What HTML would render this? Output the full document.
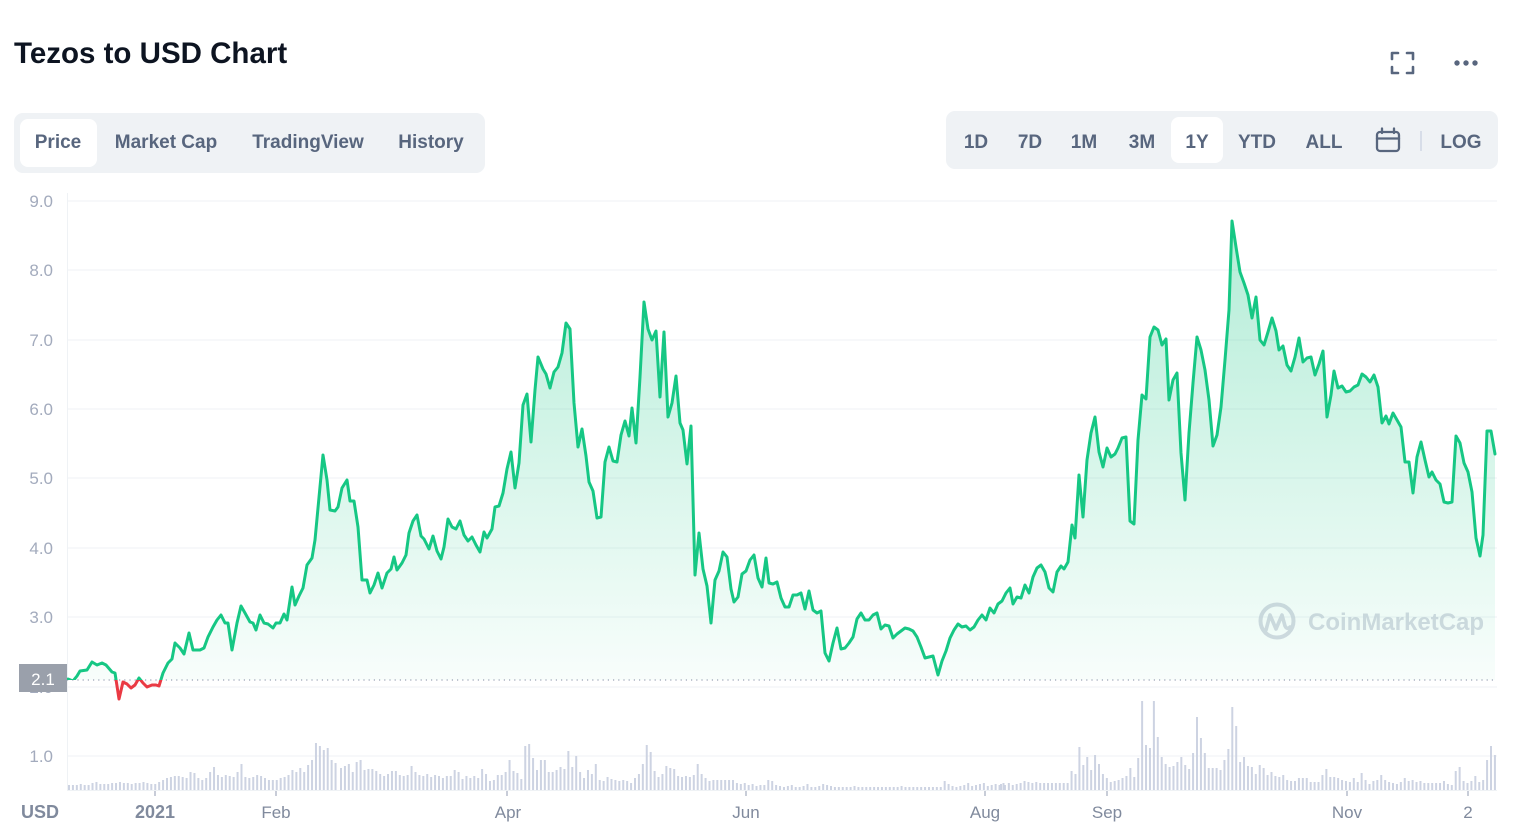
<!DOCTYPE html>
<html>
<head>
<meta charset="utf-8">
<style>
html,body{margin:0;padding:0;background:#fff;}
body{width:1531px;height:831px;overflow:hidden;position:relative;font-family:"Liberation Sans",Arial,sans-serif;}
svg{position:absolute;left:0;top:0;}
</style>
</head>
<body>
<svg width="1531" height="831" viewBox="0 0 1531 831" xmlns="http://www.w3.org/2000/svg" font-family="Liberation Sans, Arial, sans-serif">
<defs>
<linearGradient id="gg" x1="0" y1="200" x2="0" y2="680" gradientUnits="userSpaceOnUse">
<stop offset="0" stop-color="#16c784" stop-opacity="0.34"/>
<stop offset="1" stop-color="#16c784" stop-opacity="0.03"/>
</linearGradient>
<linearGradient id="rg" x1="0" y1="680" x2="0" y2="710" gradientUnits="userSpaceOnUse">
<stop offset="0" stop-color="#ea3943" stop-opacity="0.03"/>
<stop offset="1" stop-color="#ea3943" stop-opacity="0.12"/>
</linearGradient>
<clipPath id="above"><rect x="60" y="150" width="1450" height="530"/></clipPath>
<clipPath id="below"><rect x="60" y="680" width="1450" height="120"/></clipPath>
</defs>

<!-- Header -->
<text x="14" y="63" font-size="29.5" font-weight="bold" fill="#0d1421">Tezos to USD Chart</text>

<!-- fullscreen icon -->
<g fill="none" stroke="#58667e" stroke-width="2.6" stroke-linecap="round" stroke-linejoin="round">
<path d="M1392 59 V53 H1398"/>
<path d="M1407 53 H1413 V59"/>
<path d="M1413 67 V73 H1407"/>
<path d="M1398 73 H1392 V67"/>
</g>
<g fill="#58667e"><circle cx="1457" cy="63" r="2.7"/><circle cx="1466" cy="63" r="2.7"/><circle cx="1475" cy="63" r="2.7"/></g>

<!-- Left tabs -->
<rect x="14" y="113" width="471" height="60" rx="9" fill="#eff2f5"/>
<rect x="20" y="119" width="77" height="48" rx="8" fill="#ffffff"/>
<g font-size="19" font-weight="bold" fill="#58667e" text-anchor="middle">
<text x="58" y="148">Price</text>
<text x="166" y="148">Market Cap</text>
<text x="308" y="148">TradingView</text>
<text x="431" y="148">History</text>
</g>

<!-- Right range selector -->
<rect x="946" y="111" width="552" height="58" rx="9" fill="#eff2f5"/>
<rect x="1171" y="117" width="52" height="46" rx="8" fill="#ffffff"/>
<g font-size="19" font-weight="bold" fill="#58667e" text-anchor="middle">
<text x="976" y="148">1D</text>
<text x="1030" y="148">7D</text>
<text x="1084" y="148">1M</text>
<text x="1142" y="148">3M</text>
<text x="1197" y="148">1Y</text>
<text x="1257" y="148">YTD</text>
<text x="1324" y="148">ALL</text>
<text x="1461" y="148">LOG</text>
</g>
<g fill="none" stroke="#58667e" stroke-width="2.3" stroke-linecap="round">
<rect x="1377" y="132" width="22" height="19" rx="3"/>
<line x1="1377" y1="138.5" x2="1399" y2="138.5"/>
<line x1="1382" y1="128.5" x2="1382" y2="133"/>
<line x1="1394" y1="128.5" x2="1394" y2="133"/>
</g>
<line x1="1421" y1="131" x2="1421" y2="151" stroke="#cfd6e4" stroke-width="1.5"/>

<!-- Grid -->
<g stroke="#eff2f5" stroke-width="1">
<line x1="67" y1="201" x2="1497" y2="201"/>
<line x1="67" y1="270" x2="1497" y2="270"/>
<line x1="67" y1="340" x2="1497" y2="340"/>
<line x1="67" y1="409" x2="1497" y2="409"/>
<line x1="67" y1="478" x2="1497" y2="478"/>
<line x1="67" y1="548" x2="1497" y2="548"/>
<line x1="67" y1="617" x2="1497" y2="617"/>
<line x1="67" y1="687" x2="1497" y2="687"/>
<line x1="67" y1="756" x2="1497" y2="756"/>
<line x1="67" y1="790.5" x2="1497" y2="790.5"/>
<line x1="67.5" y1="193" x2="67.5" y2="791"/>
</g>

<!-- Y labels -->
<g font-size="17" fill="#a3abbd" text-anchor="end">
<text x="53" y="207">9.0</text>
<text x="53" y="276">8.0</text>
<text x="53" y="346">7.0</text>
<text x="53" y="415">6.0</text>
<text x="53" y="484">5.0</text>
<text x="53" y="554">4.0</text>
<text x="53" y="623">3.0</text>
<text x="53" y="693">2.0</text>
<text x="53" y="762">1.0</text>
</g>

<!-- Volume bars -->
<g fill="none" stroke="#cdd3e2" stroke-width="2">
<path d="M69 790v-5m3.92 5v-5m3.92 5v-5m3.92 5v-6m3.92 6v-5m3.92 5v-5m3.92 5v-7m3.92 7v-8m3.92 8v-6m3.92 6v-6m3.92 6v-6m3.92 6v-7m3.92 7v-7m3.92 7v-8m3.92 8v-7m3.92 7v-7m3.92 7v-6m3.92 6v-7m3.92 7v-7m3.92 7v-8m3.92 8v-7m3.92 7v-6m3.92 6v-6m3.92 6v-8m3.92 8v-10m3.92 10v-12m3.92 12v-13m3.92 13v-14m3.92 14v-14m3.92 14v-13m3.92 13v-12m3.92 12v-18m3.92 18v-17m3.92 17v-12m3.92 12v-10m3.92 10v-12m3.92 12v-18m3.92 18v-23m3.92 23v-15m3.92 15v-13m3.92 13v-15m3.92 15v-14m3.92 14v-13m3.92 13v-18m3.92 18v-26m3.92 26v-13m3.92 13v-12m3.92 12v-13m3.92 13v-15m3.92 15v-14m3.92 14v-12m3.92 12v-10m3.92 10v-10m3.92 10v-10m3.92 10v-12m3.92 12v-13m3.92 13v-15m3.92 15v-20m3.92 20v-18m3.92 18v-22m3.92 22v-18m3.92 18v-25m3.92 25v-30m3.92 30v-47m3.92 47v-44m3.92 44v-40m3.92 40v-42m3.92 42v-30m3.92 30v-27"/>
<path d="M341 790v-22m3.92 22v-24m3.92 24v-26m3.92 26v-18m3.92 18v-28m3.92 28v-30m3.92 30v-20m3.92 20v-21m3.92 21v-21m3.92 21v-19m3.92 19v-16m3.92 16v-14m3.92 14v-16m3.92 16v-19m3.92 19v-19m3.92 19v-15m3.92 15v-14m3.92 14v-15m3.92 15v-24m3.92 24v-18m3.92 18v-15m3.92 15v-14m3.92 14v-16m3.92 16v-13m3.92 13v-15m3.92 15v-14m3.92 14v-12m3.92 12v-14m3.92 14v-14m3.92 14v-20m3.92 20v-18m3.92 18v-11m3.92 11v-14m3.92 14v-12m3.92 12v-14m3.92 14v-12m3.92 12v-21m3.92 21v-16m3.92 16v-9m3.92 9v-10m3.92 10v-15m3.92 15v-15m3.92 15v-18m3.92 18v-30m3.92 30v-19m3.92 19v-17m3.92 17v-11m3.92 11v-44m3.92 44v-46m3.92 46v-32m3.92 32v-20m3.92 20v-30m3.92 30v-30m3.92 30v-18m3.92 18v-18m3.92 18v-20m3.92 20v-23m3.92 23v-21m3.92 21v-39m3.92 39v-23m3.92 23v-34m3.92 34v-18m3.92 18v-12m3.92 12v-20m3.92 20v-16m3.92 16v-26m3.92 26v-10m3.92 10v-9m3.92 9v-13m3.92 13v-11m3.92 11v-10m3.92 10v-9m3.92 9v-10m3.92 10v-9m3.92 9v-7m3.92 7v-12m3.92 12v-16m3.92 16v-26m3.92 26v-45m3.92 45v-38m3.92 38v-19m3.92 19v-13m3.92 13v-16m3.92 16v-24m3.92 24v-22m3.92 22v-21m3.92 21v-14m3.92 14v-13m3.92 13v-14m3.92 14v-13m3.92 13v-15m3.92 15v-26m3.92 26v-16m3.92 16v-12m3.92 12v-9m3.92 9v-10m3.92 10v-10m3.92 10v-10m3.92 10v-10m3.92 10v-10m3.92 10v-10m3.92 10v-7m3.92 7v-6m3.92 6v-7m3.92 7v-5m3.92 5v-6m3.92 6v-4m3.92 4v-5m3.92 5v-5m3.92 5v-10m3.92 10v-9m3.92 9v-5m3.92 5v-4m3.92 4v-3m3.92 3v-4m3.92 4v-5m3.92 5v-3m3.92 3v-3m3.92 3v-4m3.92 4v-6m3.92 6v-3m3.92 3v-3m3.92 3v-4m3.92 4v-6m3.92 6v-5m3.92 5v-4m3.92 4v-3m3.92 3v-3m3.92 3v-3m3.92 3v-3m3.92 3v-3m3.92 3v-4m3.92 4v-3m3.92 3v-3m3.92 3v-3m3.92 3v-3m3.92 3v-3m3.92 3v-3m3.92 3v-3m3.92 3v-3m3.92 3v-3m3.92 3v-3m3.92 3v-3m3.92 3v-4m3.92 4v-3m3.92 3v-3m3.92 3v-3m3.92 3v-3m3.92 3v-3m3.92 3v-3m3.92 3v-3m3.92 3v-3m3.92 3v-3m3.92 3v-3m3.92 3v-9m3.92 9v-6m3.92 6v-4m3.92 4v-3m3.92 3v-4m3.92 4v-5m3.92 5v-7m3.92 7v-4m3.92 4v-5m3.92 5v-6m3.92 6v-7m3.92 7v-4m3.92 4v-5m3.92 5v-6m3.92 6v-5m3.92 5v-7"/>
<path d="M1001 790v-6m3.92 6v-5m3.92 5v-7m3.92 7v-5m3.92 5v-6m3.92 6v-7m3.92 7v-9m3.92 9v-8m3.92 8v-7m3.92 7v-8m3.92 8v-7m3.92 7v-7m3.92 7v-7m3.92 7v-7m3.92 7v-7m3.92 7v-7m3.92 7v-7m3.92 7v-7m3.92 7v-19m3.92 19v-16m3.92 16v-43m3.92 43v-25m3.92 25v-33m3.92 33v-20m3.92 20v-35m3.92 35v-26m3.92 26v-16m3.92 16v-12m3.92 12v-8m3.92 8v-9m3.92 9v-10m3.92 10v-12m3.92 12v-14m3.92 14v-22m3.92 22v-13m3.92 13v-32m3.92 32v-89m3.92 89v-45m3.92 45v-42m3.92 42v-89m3.92 89v-53m3.92 53v-33m3.92 33v-26m3.92 26v-23m3.92 23v-24m3.92 24v-28m3.92 28v-33m3.92 33v-25m3.92 25v-21m3.92 21v-37m3.92 37v-73m3.92 73v-52m3.92 52v-37m3.92 37v-22m3.92 22v-22m3.92 22v-22m3.92 22v-20m3.92 20v-30m3.92 30v-41m3.92 41v-83m3.92 83v-64m3.92 64v-28m3.92 28v-33m3.92 33v-24m3.92 24v-23m3.92 23v-16m3.92 16v-25m3.92 25v-22m3.92 22v-15m3.92 15v-18m3.92 18v-14m3.92 14v-13m3.92 13v-15m3.92 15v-10m3.92 10v-9m3.92 9v-9m3.92 9v-12m3.92 12v-12m3.92 12v-12m3.92 12v-8m3.92 8v-8m3.92 8v-8m3.92 8v-15m3.92 15v-21m3.92 21v-13m3.92 13v-13m3.92 13v-12m3.92 12v-10m3.92 10v-9m3.92 9v-8m3.92 8v-12m3.92 12v-8m3.92 8v-17m3.92 17v-10m3.92 10v-6m3.92 6v-9m3.92 9v-10m3.92 10v-15m3.92 15v-10m3.92 10v-8m3.92 8v-7m3.92 7v-6m3.92 6v-8m3.92 8v-12m3.92 12v-9m3.92 9v-10m3.92 10v-8m3.92 8v-9m3.92 9v-7m3.92 7v-7m3.92 7v-7m3.92 7v-7m3.92 7v-7m3.92 7v-9m3.92 9v-6m3.92 6v-5m3.92 5v-19m3.92 19v-23m3.92 23v-9m3.92 9v-7m3.92 7v-9m3.92 9v-14m3.92 14v-8m3.92 8v-10m3.92 10v-30m3.92 30v-44m3.92 44v-35"/>
</g>

<!-- Watermark -->
<g opacity="0.9">
<circle cx="1277" cy="621" r="16.5" fill="none" stroke="#d3d6e1" stroke-width="4"/>
<path d="M1266 630 L1270 615 L1276 629 L1282 615 L1285 626 Q1287 630 1290 627" fill="none" stroke="#d3d6e1" stroke-width="3.6" stroke-linejoin="round" stroke-linecap="round"/>
<text x="1308" y="630" font-size="24" font-weight="bold" fill="#d3d6e1">CoinMarketCap</text>
</g>

<!-- Area fills -->
<path clip-path="url(#above)" fill="url(#gg)" d="M68,680 L68,679 73,681 77,676 80,671 87,670 92,662 97,665 102,663 106,665 112,672 115,673 119,699 123,682 127,684 131,688 135,685 139,678 143,683 147,687 152,685 156,685 159,686 163,673 168,663 172,659 175,643 180,648 184,654 189,633 193,650 200,650 204,648 208,637 213,627 217,620 221,615 225,623 228,623 232,650 237,623 241,606 245,613 250,622 253,623 256,630 260,615 264,623 268,624 273,628 276,623 280,623 284,614 287,620 292,587 295,605 299,596 303,588 307,565 312,558 315,540 318,508 323,455 327,480 330,510 335,511 338,507 342,488 347,480 350,501 354,501 358,527 362,580 367,580 370,593 374,585 378,573 382,588 387,573 391,569 394,557 397,570 402,563 406,555 409,533 413,521 417,515 421,536 424,539 429,549 433,536 437,551 441,559 444,547 448,519 452,527 456,529 460,521 464,535 468,541 472,537 476,545 480,552 484,532 487,538 492,529 495,507 499,506 503,493 507,469 511,452 515,488 519,463 523,405 527,394 531,442 535,390 538,357 543,369 546,374 550,388 554,372 558,367 562,353 566,323 570,329 574,403 578,447 582,429 586,456 589,482 593,491 597,518 601,517 605,462 609,447 613,461 617,462 621,435 625,421 629,436 632,408 636,443 640,377 644,302 648,329 652,340 656,331 660,397 664,332 668,417 672,403 676,376 680,423 683,430 687,464 691,426 695,575 699,533 703,569 707,586 711,623 715,580 719,571 723,552 727,557 731,589 734,602 738,597 742,574 746,571 750,560 754,555 758,578 762,587 766,558 769,583 773,584 777,582 781,598 785,607 789,607 793,595 797,595 801,593 805,609 809,591 813,610 817,613 821,611 825,653 829,661 833,643 837,628 841,649 845,648 849,643 853,637 857,619 861,613 865,620 869,620 873,615 877,613 881,629 885,625 889,626 893,638 897,634 901,631 905,628 909,629 913,631 917,637 921,647 925,658 929,657 933,656 938,675 942,661 946,651 950,638 954,630 958,624 962,627 966,626 970,630 974,627 978,620 982,615 986,620 990,608 994,613 998,604 1002,601 1006,593 1010,588 1013,604 1017,597 1021,598 1025,585 1029,593 1033,577 1037,568 1041,565 1045,572 1049,588 1053,592 1057,572 1061,566 1064,569 1068,562 1072,525 1075,538 1079,475 1083,517 1087,460 1091,433 1095,417 1099,452 1103,467 1107,448 1111,457 1115,454 1118,448 1122,438 1126,437 1130,521 1134,524 1138,440 1142,395 1146,399 1150,337 1154,327 1158,330 1162,345 1166,339 1169,400 1173,380 1177,373 1181,453 1185,500 1189,433 1193,383 1197,337 1201,350 1205,370 1209,400 1213,446 1217,435 1221,407 1225,360 1229,310 1232,221 1236,247 1240,272 1244,283 1248,295 1252,318 1256,297 1260,340 1264,345 1268,332 1272,318 1276,331 1279,350 1283,346 1287,365 1291,371 1295,357 1299,338 1303,362 1307,358 1311,357 1315,375 1319,364 1323,351 1327,417 1331,395 1334,371 1338,388 1342,386 1346,392 1350,391 1354,387 1358,385 1362,374 1366,377 1370,382 1374,375 1378,387 1382,423 1386,416 1389,424 1393,413 1397,420 1401,427 1405,462 1409,462 1413,493 1417,457 1421,442 1425,460 1429,477 1432,472 1436,480 1440,484 1444,502 1448,503 1452,502 1456,436 1460,443 1464,463 1468,472 1472,492 1476,538 1480,556 1483,535 1487,431 1491,431 1495,454 L1495,680 Z"/>
<path clip-path="url(#below)" fill="url(#rg)" d="M112,680 L115,673 119,699 123,682 127,684 131,688 135,685 139,678 143,683 147,687 152,685 156,685 159,686 163,673 L163,680 Z"/>

<!-- reference dotted line -->
<line x1="67" y1="680" x2="1497" y2="680" stroke="#9aa2b4" stroke-width="1.2" stroke-dasharray="1.2 4"/>

<!-- Price line -->
<g fill="none" stroke-width="3" stroke-linejoin="round" stroke-linecap="round">
<polyline clip-path="url(#above)" stroke="#16c784" points="68,679 73,681 77,676 80,671 87,670 92,662 97,665 102,663 106,665 112,672 115,673 119,699 123,682 127,684 131,688 135,685 139,678 143,683 147,687 152,685 156,685 159,686 163,673 168,663 172,659 175,643 180,648 184,654 189,633 193,650 200,650 204,648 208,637 213,627 217,620 221,615 225,623 228,623 232,650 237,623 241,606 245,613 250,622 253,623 256,630 260,615 264,623 268,624 273,628 276,623 280,623 284,614 287,620 292,587 295,605 299,596 303,588 307,565 312,558 315,540 318,508 323,455 327,480 330,510 335,511 338,507 342,488 347,480 350,501 354,501 358,527 362,580 367,580 370,593 374,585 378,573 382,588 387,573 391,569 394,557 397,570 402,563 406,555 409,533 413,521 417,515 421,536 424,539 429,549 433,536 437,551 441,559 444,547 448,519 452,527 456,529 460,521 464,535 468,541 472,537 476,545 480,552 484,532 487,538 492,529 495,507 499,506 503,493 507,469 511,452 515,488 519,463 523,405 527,394 531,442 535,390 538,357 543,369 546,374 550,388 554,372 558,367 562,353 566,323 570,329 574,403 578,447 582,429 586,456 589,482 593,491 597,518 601,517 605,462 609,447 613,461 617,462 621,435 625,421 629,436 632,408 636,443 640,377 644,302 648,329 652,340 656,331 660,397 664,332 668,417 672,403 676,376 680,423 683,430 687,464 691,426 695,575 699,533 703,569 707,586 711,623 715,580 719,571 723,552 727,557 731,589 734,602 738,597 742,574 746,571 750,560 754,555 758,578 762,587 766,558 769,583 773,584 777,582 781,598 785,607 789,607 793,595 797,595 801,593 805,609 809,591 813,610 817,613 821,611 825,653 829,661 833,643 837,628 841,649 845,648 849,643 853,637 857,619 861,613 865,620 869,620 873,615 877,613 881,629 885,625 889,626 893,638 897,634 901,631 905,628 909,629 913,631 917,637 921,647 925,658 929,657 933,656 938,675 942,661 946,651 950,638 954,630 958,624 962,627 966,626 970,630 974,627 978,620 982,615 986,620 990,608 994,613 998,604 1002,601 1006,593 1010,588 1013,604 1017,597 1021,598 1025,585 1029,593 1033,577 1037,568 1041,565 1045,572 1049,588 1053,592 1057,572 1061,566 1064,569 1068,562 1072,525 1075,538 1079,475 1083,517 1087,460 1091,433 1095,417 1099,452 1103,467 1107,448 1111,457 1115,454 1118,448 1122,438 1126,437 1130,521 1134,524 1138,440 1142,395 1146,399 1150,337 1154,327 1158,330 1162,345 1166,339 1169,400 1173,380 1177,373 1181,453 1185,500 1189,433 1193,383 1197,337 1201,350 1205,370 1209,400 1213,446 1217,435 1221,407 1225,360 1229,310 1232,221 1236,247 1240,272 1244,283 1248,295 1252,318 1256,297 1260,340 1264,345 1268,332 1272,318 1276,331 1279,350 1283,346 1287,365 1291,371 1295,357 1299,338 1303,362 1307,358 1311,357 1315,375 1319,364 1323,351 1327,417 1331,395 1334,371 1338,388 1342,386 1346,392 1350,391 1354,387 1358,385 1362,374 1366,377 1370,382 1374,375 1378,387 1382,423 1386,416 1389,424 1393,413 1397,420 1401,427 1405,462 1409,462 1413,493 1417,457 1421,442 1425,460 1429,477 1432,472 1436,480 1440,484 1444,502 1448,503 1452,502 1456,436 1460,443 1464,463 1468,472 1472,492 1476,538 1480,556 1483,535 1487,431 1491,431 1495,454"/>
<polyline clip-path="url(#below)" stroke="#ea3943" points="106,665 112,672 115,673 119,699 123,682 127,684 131,688 135,685 139,678 143,683 147,687 152,685 156,685 159,686 163,673 168,663"/>
</g>

<!-- 2.1 current label -->
<rect x="19" y="664" width="48" height="28" fill="#9aa0ab"/>
<text x="43" y="685" font-size="17" fill="#ffffff" text-anchor="middle">2.1</text>

<!-- X axis ticks -->
<g stroke="#a3abbd" stroke-width="1.2">
<line x1="155" y1="791" x2="155" y2="796"/>
<line x1="276" y1="791" x2="276" y2="796"/>
<line x1="507" y1="791" x2="507" y2="796"/>
<line x1="746" y1="791" x2="746" y2="796"/>
<line x1="985" y1="791" x2="985" y2="796"/>
<line x1="1107" y1="791" x2="1107" y2="796"/>
<line x1="1347" y1="791" x2="1347" y2="796"/>
<line x1="1468" y1="791" x2="1468" y2="796"/>
</g>
<text x="21" y="818" font-size="18" font-weight="bold" fill="#808a9d">USD</text>
<text x="155" y="818" font-size="18" font-weight="bold" fill="#808a9d" text-anchor="middle">2021</text>
<g font-size="17" fill="#808a9d" text-anchor="middle">
<text x="276" y="818">Feb</text>
<text x="508" y="818">Apr</text>
<text x="746" y="818">Jun</text>
<text x="985" y="818">Aug</text>
<text x="1107" y="818">Sep</text>
<text x="1347" y="818">Nov</text>
<text x="1468" y="818">2</text>
</g>
</svg>
</body>
</html>
